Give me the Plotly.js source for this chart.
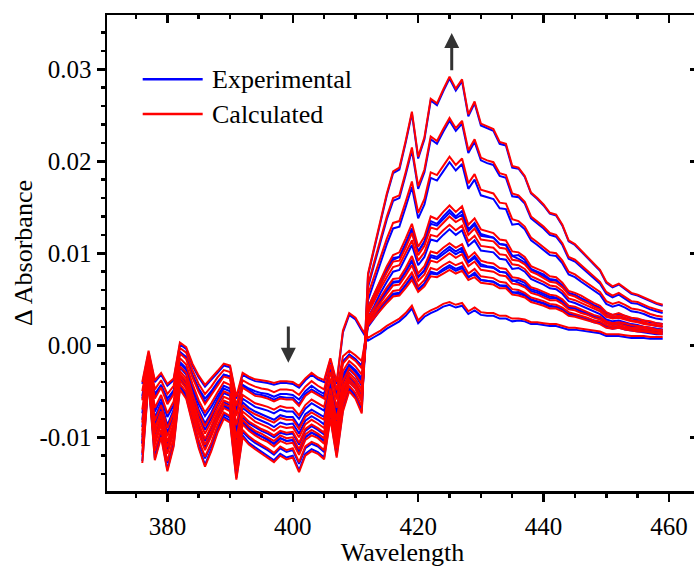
<!DOCTYPE html>
<html>
<head>
<meta charset="utf-8">
<script src="https://cdn.plot.ly/plotly-3.0.1.min.js"></script>
<style>
html,body{margin:0;padding:0;overflow:hidden;background:#fff;}
#chart{width:700px;height:567px;}
</style>
</head>
<body>
<div id="chart"></div>
<script>
// Wavelength (nm)
const wavelength = [376,377,378,379,380,381,382,383,384,385,386,387,388,389,390,391,392,393,394,395,396,397,398,399,400,401,402,403,404,405,406,407,408,409,410,411,412,413,414,415,416,417,418,419,420,421,422,423,424,425,426,427,428,429,430,431,432,433,434,435,436,437,438,439,440,441,442,443,444,445,446,447,448,449,450,451,452,453,454,455,456,457,458,459];

// Calculated Δ absorbance spectra (titration series)
const calc1 = [-40e-4,-6e-4,-38e-4,-30e-4,-42e-4,-36e-4,3e-4,-2e-4,-20e-4,-33e-4,-43e-4,-36e-4,-28e-4,-20e-4,-22e-4,-56e-4,-30e-4,-34e-4,-37e-4,-38e-4,-39e-4,-41e-4,-39e-4,-39e-4,-40e-4,-44e-4,-36e-4,-30e-4,-35e-4,-38e-4,-14e-4,-40e-4,16e-4,35e-4,30e-4,18e-4,8e-4,12e-4,16e-4,21e-4,25e-4,29e-4,35e-4,43e-4,27e-4,34e-4,38e-4,41e-4,45e-4,47e-4,44e-4,46e-4,37e-4,41e-4,36e-4,35e-4,35e-4,32e-4,32e-4,29e-4,29e-4,28e-4,25e-4,25e-4,24e-4,23e-4,23e-4,21e-4,19e-4,19e-4,18e-4,17e-4,16e-4,15e-4,12e-4,12e-4,12e-4,11e-4,10e-4,10e-4,10e-4,9e-4,9e-4,9e-4];
const calc2 = [-50e-4,-10e-4,-48e-4,-38e-4,-53e-4,-44e-4,-3e-4,-8e-4,-27e-4,-42e-4,-53e-4,-45e-4,-35e-4,-27e-4,-29e-4,-66e-4,-38e-4,-42e-4,-45e-4,-47e-4,-48e-4,-51e-4,-48e-4,-48e-4,-49e-4,-54e-4,-45e-4,-39e-4,-44e-4,-48e-4,-21e-4,-49e-4,-12e-4,-6e-4,-11e-4,-17e-4,22e-4,30e-4,39e-4,46e-4,53e-4,54e-4,62e-4,71e-4,58e-4,64e-4,75e-4,74e-4,78e-4,82e-4,78e-4,81e-4,71e-4,74e-4,68e-4,67e-4,66e-4,62e-4,62e-4,55e-4,54e-4,52e-4,47e-4,45e-4,43e-4,40e-4,40e-4,37e-4,32e-4,31e-4,29e-4,27e-4,25e-4,23e-4,19e-4,18e-4,19e-4,17e-4,16e-4,15e-4,15e-4,14e-4,13e-4,12e-4];
const calc3 = [-60e-4,-14e-4,-58e-4,-46e-4,-64e-4,-53e-4,-9e-4,-15e-4,-35e-4,-51e-4,-64e-4,-54e-4,-43e-4,-34e-4,-36e-4,-77e-4,-46e-4,-51e-4,-55e-4,-56e-4,-58e-4,-61e-4,-58e-4,-59e-4,-59e-4,-66e-4,-55e-4,-50e-4,-54e-4,-58e-4,-29e-4,-59e-4,-20e-4,-12e-4,-17e-4,-25e-4,24e-4,34e-4,43e-4,51e-4,59e-4,60e-4,69e-4,79e-4,64e-4,71e-4,84e-4,82e-4,87e-4,91e-4,87e-4,90e-4,78e-4,83e-4,75e-4,74e-4,73e-4,69e-4,68e-4,61e-4,60e-4,57e-4,52e-4,50e-4,48e-4,45e-4,44e-4,41e-4,36e-4,34e-4,32e-4,30e-4,27e-4,26e-4,22e-4,20e-4,21e-4,19e-4,18e-4,17e-4,16e-4,15e-4,14e-4,14e-4];
const calc4 = [-70e-4,-18e-4,-68e-4,-54e-4,-74e-4,-61e-4,-14e-4,-21e-4,-42e-4,-60e-4,-73e-4,-63e-4,-51e-4,-40e-4,-43e-4,-87e-4,-54e-4,-59e-4,-63e-4,-65e-4,-67e-4,-70e-4,-66e-4,-68e-4,-68e-4,-76e-4,-65e-4,-59e-4,-63e-4,-67e-4,-36e-4,-68e-4,-28e-4,-17e-4,-23e-4,-32e-4,27e-4,37e-4,47e-4,56e-4,65e-4,66e-4,76e-4,87e-4,70e-4,77e-4,92e-4,90e-4,95e-4,100e-4,95e-4,99e-4,86e-4,91e-4,82e-4,81e-4,80e-4,76e-4,75e-4,67e-4,66e-4,63e-4,57e-4,55e-4,52e-4,49e-4,49e-4,45e-4,39e-4,38e-4,35e-4,33e-4,30e-4,28e-4,24e-4,22e-4,23e-4,21e-4,19e-4,19e-4,18e-4,17e-4,16e-4,15e-4];
const calc5 = [-84e-4,-23e-4,-82e-4,-65e-4,-90e-4,-73e-4,-23e-4,-30e-4,-53e-4,-73e-4,-88e-4,-76e-4,-62e-4,-50e-4,-53e-4,-101e-4,-65e-4,-71e-4,-75e-4,-78e-4,-81e-4,-84e-4,-79e-4,-81e-4,-81e-4,-91e-4,-78e-4,-73e-4,-77e-4,-81e-4,-47e-4,-81e-4,-39e-4,-25e-4,-32e-4,-42e-4,30e-4,41e-4,52e-4,63e-4,72e-4,73e-4,84e-4,97e-4,78e-4,86e-4,102e-4,100e-4,106e-4,111e-4,106e-4,110e-4,95e-4,101e-4,92e-4,90e-4,89e-4,84e-4,83e-4,74e-4,73e-4,70e-4,63e-4,61e-4,58e-4,55e-4,54e-4,50e-4,43e-4,42e-4,39e-4,36e-4,33e-4,31e-4,26e-4,24e-4,25e-4,24e-4,22e-4,21e-4,20e-4,19e-4,17e-4,17e-4];
const calc6 = [-93e-4,-26e-4,-90e-4,-72e-4,-99e-4,-80e-4,-28e-4,-36e-4,-59e-4,-80e-4,-96e-4,-83e-4,-68e-4,-56e-4,-59e-4,-110e-4,-72e-4,-78e-4,-83e-4,-86e-4,-89e-4,-93e-4,-88e-4,-90e-4,-89e-4,-100e-4,-86e-4,-81e-4,-85e-4,-90e-4,-54e-4,-89e-4,-45e-4,-30e-4,-37e-4,-48e-4,35e-4,48e-4,62e-4,74e-4,85e-4,87e-4,100e-4,114e-4,92e-4,101e-4,120e-4,118e-4,125e-4,131e-4,125e-4,130e-4,113e-4,119e-4,108e-4,107e-4,106e-4,99e-4,98e-4,88e-4,87e-4,83e-4,75e-4,72e-4,69e-4,65e-4,64e-4,59e-4,51e-4,49e-4,46e-4,43e-4,40e-4,37e-4,31e-4,29e-4,30e-4,28e-4,26e-4,25e-4,23e-4,22e-4,21e-4,20e-4];
const calc7 = [-98e-4,-28e-4,-95e-4,-76e-4,-105e-4,-85e-4,-31e-4,-39e-4,-63e-4,-85e-4,-102e-4,-88e-4,-72e-4,-60e-4,-63e-4,-115e-4,-76e-4,-83e-4,-87e-4,-91e-4,-94e-4,-98e-4,-93e-4,-95e-4,-94e-4,-106e-4,-91e-4,-86e-4,-90e-4,-95e-4,-58e-4,-94e-4,-49e-4,-33e-4,-40e-4,-52e-4,37e-4,52e-4,66e-4,79e-4,91e-4,92e-4,106e-4,122e-4,98e-4,108e-4,128e-4,126e-4,133e-4,140e-4,134e-4,138e-4,120e-4,127e-4,115e-4,114e-4,113e-4,106e-4,105e-4,93e-4,92e-4,88e-4,80e-4,77e-4,73e-4,69e-4,68e-4,63e-4,55e-4,53e-4,49e-4,46e-4,42e-4,39e-4,33e-4,31e-4,32e-4,30e-4,27e-4,26e-4,25e-4,23e-4,22e-4,21e-4];
const calc8 = [-104e-4,-31e-4,-102e-4,-81e-4,-111e-4,-90e-4,-34e-4,-43e-4,-68e-4,-91e-4,-108e-4,-94e-4,-77e-4,-64e-4,-67e-4,-122e-4,-81e-4,-88e-4,-93e-4,-96e-4,-100e-4,-104e-4,-98e-4,-101e-4,-100e-4,-113e-4,-97e-4,-92e-4,-96e-4,-101e-4,-62e-4,-100e-4,-54e-4,-37e-4,-44e-4,-57e-4,41e-4,56e-4,72e-4,86e-4,98e-4,101e-4,116e-4,132e-4,107e-4,118e-4,140e-4,137e-4,145e-4,152e-4,145e-4,151e-4,131e-4,138e-4,126e-4,124e-4,122e-4,115e-4,114e-4,102e-4,101e-4,96e-4,86e-4,83e-4,80e-4,75e-4,74e-4,68e-4,59e-4,57e-4,54e-4,50e-4,46e-4,43e-4,36e-4,33e-4,35e-4,32e-4,30e-4,29e-4,27e-4,26e-4,24e-4,23e-4];
const calc9 = [-110e-4,-33e-4,-108e-4,-86e-4,-118e-4,-95e-4,-38e-4,-47e-4,-72e-4,-96e-4,-114e-4,-99e-4,-82e-4,-68e-4,-72e-4,-128e-4,-86e-4,-93e-4,-98e-4,-102e-4,-105e-4,-110e-4,-104e-4,-107e-4,-106e-4,-119e-4,-103e-4,-98e-4,-101e-4,-107e-4,-67e-4,-106e-4,-59e-4,-40e-4,-47e-4,-61e-4,55e-4,76e-4,97e-4,116e-4,133e-4,135e-4,156e-4,178e-4,144e-4,159e-4,188e-4,185e-4,195e-4,205e-4,196e-4,203e-4,176e-4,186e-4,169e-4,167e-4,165e-4,155e-4,154e-4,137e-4,135e-4,129e-4,117e-4,112e-4,107e-4,101e-4,100e-4,92e-4,80e-4,77e-4,72e-4,67e-4,62e-4,58e-4,48e-4,45e-4,47e-4,44e-4,40e-4,39e-4,37e-4,34e-4,32e-4,31e-4];
const calc10 = [-117e-4,-36e-4,-115e-4,-92e-4,-126e-4,-101e-4,-42e-4,-51e-4,-77e-4,-103e-4,-121e-4,-106e-4,-87e-4,-73e-4,-77e-4,-135e-4,-92e-4,-99e-4,-104e-4,-108e-4,-112e-4,-117e-4,-110e-4,-114e-4,-112e-4,-127e-4,-110e-4,-105e-4,-108e-4,-114e-4,-72e-4,-112e-4,-64e-4,-44e-4,-52e-4,-66e-4,66e-4,91e-4,117e-4,140e-4,160e-4,163e-4,188e-4,215e-4,173e-4,191e-4,227e-4,222e-4,235e-4,247e-4,236e-4,244e-4,212e-4,224e-4,204e-4,201e-4,199e-4,187e-4,185e-4,165e-4,163e-4,156e-4,140e-4,135e-4,129e-4,122e-4,120e-4,111e-4,96e-4,93e-4,87e-4,81e-4,74e-4,69e-4,58e-4,54e-4,57e-4,52e-4,48e-4,47e-4,44e-4,41e-4,39e-4,37e-4];
const calc11 = [-128e-4,-40e-4,-125e-4,-100e-4,-137e-4,-110e-4,-48e-4,-58e-4,-85e-4,-112e-4,-132e-4,-115e-4,-95e-4,-80e-4,-84e-4,-146e-4,-100e-4,-108e-4,-113e-4,-118e-4,-122e-4,-127e-4,-120e-4,-124e-4,-122e-4,-138e-4,-120e-4,-115e-4,-118e-4,-124e-4,-80e-4,-122e-4,-72e-4,-50e-4,-58e-4,-74e-4,78e-4,108e-4,138e-4,165e-4,189e-4,193e-4,222e-4,254e-4,205e-4,226e-4,268e-4,263e-4,278e-4,292e-4,279e-4,289e-4,251e-4,265e-4,241e-4,238e-4,235e-4,221e-4,219e-4,195e-4,193e-4,184e-4,166e-4,160e-4,153e-4,144e-4,142e-4,131e-4,114e-4,110e-4,103e-4,96e-4,88e-4,82e-4,69e-4,64e-4,67e-4,62e-4,57e-4,55e-4,52e-4,49e-4,46e-4,44e-4];

// Experimental Δ absorbance spectra
const exp1 = [-42e-4,-8e-4,-40e-4,-32e-4,-44e-4,-38e-4,1e-4,-4e-4,-22e-4,-35e-4,-45e-4,-38e-4,-30e-4,-22e-4,-24e-4,-58e-4,-32e-4,-36e-4,-39e-4,-40e-4,-41e-4,-43e-4,-41e-4,-41e-4,-42e-4,-46e-4,-38e-4,-32e-4,-37e-4,-40e-4,-16e-4,-42e-4,14e-4,33e-4,28e-4,16e-4,5e-4,9e-4,13e-4,18e-4,22e-4,26e-4,32e-4,40e-4,24e-4,31e-4,35e-4,38e-4,42e-4,44e-4,41e-4,43e-4,34e-4,38e-4,33e-4,32e-4,32e-4,29e-4,29e-4,26e-4,27e-4,26e-4,23e-4,23e-4,22e-4,21e-4,21e-4,19e-4,17e-4,17e-4,16e-4,15e-4,14e-4,13e-4,10e-4,10e-4,10e-4,9e-4,8e-4,8e-4,8e-4,7e-4,7e-4,7e-4];
const exp2 = [-55e-4,-15e-4,-53e-4,-43e-4,-58e-4,-49e-4,-8e-4,-13e-4,-32e-4,-47e-4,-58e-4,-50e-4,-40e-4,-32e-4,-34e-4,-71e-4,-43e-4,-47e-4,-50e-4,-52e-4,-53e-4,-56e-4,-53e-4,-53e-4,-54e-4,-59e-4,-50e-4,-44e-4,-49e-4,-53e-4,-26e-4,-54e-4,-17e-4,-11e-4,-16e-4,-22e-4,25e-4,33e-4,42e-4,49e-4,56e-4,57e-4,65e-4,74e-4,61e-4,67e-4,78e-4,77e-4,81e-4,85e-4,81e-4,84e-4,74e-4,77e-4,71e-4,70e-4,69e-4,65e-4,65e-4,58e-4,56e-4,54e-4,49e-4,47e-4,45e-4,42e-4,42e-4,39e-4,34e-4,33e-4,31e-4,29e-4,27e-4,25e-4,21e-4,20e-4,21e-4,19e-4,18e-4,17e-4,17e-4,16e-4,15e-4,14e-4];
const exp3 = [-58e-4,-12e-4,-56e-4,-44e-4,-62e-4,-51e-4,-7e-4,-13e-4,-33e-4,-49e-4,-62e-4,-52e-4,-41e-4,-32e-4,-34e-4,-75e-4,-44e-4,-49e-4,-53e-4,-54e-4,-56e-4,-59e-4,-56e-4,-57e-4,-57e-4,-64e-4,-53e-4,-48e-4,-52e-4,-56e-4,-27e-4,-57e-4,-18e-4,-10e-4,-15e-4,-23e-4,20e-4,30e-4,39e-4,47e-4,55e-4,56e-4,65e-4,75e-4,60e-4,67e-4,80e-4,78e-4,83e-4,87e-4,83e-4,86e-4,74e-4,79e-4,71e-4,70e-4,69e-4,65e-4,64e-4,57e-4,58e-4,55e-4,50e-4,48e-4,46e-4,43e-4,42e-4,39e-4,34e-4,32e-4,30e-4,28e-4,25e-4,24e-4,20e-4,18e-4,19e-4,17e-4,16e-4,15e-4,14e-4,13e-4,12e-4,12e-4];
const exp4 = [-74e-4,-22e-4,-72e-4,-58e-4,-78e-4,-65e-4,-18e-4,-25e-4,-46e-4,-64e-4,-77e-4,-67e-4,-55e-4,-44e-4,-47e-4,-91e-4,-58e-4,-63e-4,-67e-4,-69e-4,-71e-4,-74e-4,-70e-4,-72e-4,-72e-4,-80e-4,-69e-4,-63e-4,-67e-4,-71e-4,-40e-4,-72e-4,-32e-4,-21e-4,-27e-4,-36e-4,31e-4,41e-4,51e-4,60e-4,69e-4,70e-4,80e-4,91e-4,74e-4,81e-4,96e-4,94e-4,99e-4,104e-4,99e-4,103e-4,90e-4,95e-4,86e-4,85e-4,84e-4,80e-4,79e-4,71e-4,68e-4,65e-4,59e-4,57e-4,54e-4,51e-4,51e-4,47e-4,41e-4,40e-4,37e-4,35e-4,32e-4,30e-4,26e-4,24e-4,25e-4,23e-4,21e-4,21e-4,20e-4,19e-4,18e-4,17e-4];
const exp5 = [-81e-4,-20e-4,-79e-4,-62e-4,-87e-4,-70e-4,-20e-4,-27e-4,-50e-4,-70e-4,-85e-4,-73e-4,-59e-4,-47e-4,-50e-4,-98e-4,-62e-4,-68e-4,-72e-4,-75e-4,-78e-4,-81e-4,-76e-4,-78e-4,-78e-4,-88e-4,-75e-4,-70e-4,-74e-4,-78e-4,-44e-4,-78e-4,-36e-4,-22e-4,-29e-4,-39e-4,26e-4,37e-4,48e-4,59e-4,68e-4,69e-4,80e-4,93e-4,74e-4,82e-4,98e-4,96e-4,102e-4,107e-4,102e-4,106e-4,91e-4,97e-4,88e-4,86e-4,85e-4,80e-4,79e-4,70e-4,71e-4,68e-4,61e-4,59e-4,56e-4,53e-4,52e-4,48e-4,41e-4,40e-4,37e-4,34e-4,31e-4,29e-4,24e-4,22e-4,23e-4,22e-4,20e-4,19e-4,18e-4,17e-4,15e-4,15e-4];
const exp6 = [-89e-4,-22e-4,-86e-4,-68e-4,-95e-4,-76e-4,-24e-4,-32e-4,-55e-4,-76e-4,-92e-4,-79e-4,-64e-4,-52e-4,-55e-4,-106e-4,-68e-4,-74e-4,-79e-4,-82e-4,-85e-4,-89e-4,-84e-4,-86e-4,-85e-4,-96e-4,-82e-4,-77e-4,-81e-4,-86e-4,-50e-4,-85e-4,-41e-4,-26e-4,-33e-4,-44e-4,30e-4,43e-4,57e-4,69e-4,80e-4,82e-4,95e-4,109e-4,87e-4,96e-4,115e-4,113e-4,120e-4,126e-4,120e-4,125e-4,108e-4,114e-4,103e-4,102e-4,101e-4,94e-4,93e-4,83e-4,84e-4,80e-4,72e-4,69e-4,66e-4,62e-4,61e-4,56e-4,48e-4,46e-4,43e-4,40e-4,37e-4,34e-4,28e-4,26e-4,27e-4,25e-4,23e-4,22e-4,20e-4,19e-4,18e-4,17e-4];
const exp7 = [-100e-4,-30e-4,-97e-4,-78e-4,-107e-4,-87e-4,-33e-4,-41e-4,-65e-4,-87e-4,-104e-4,-90e-4,-74e-4,-62e-4,-65e-4,-117e-4,-78e-4,-85e-4,-89e-4,-93e-4,-96e-4,-100e-4,-95e-4,-97e-4,-96e-4,-108e-4,-93e-4,-88e-4,-92e-4,-97e-4,-60e-4,-96e-4,-51e-4,-35e-4,-42e-4,-54e-4,41e-4,56e-4,70e-4,83e-4,95e-4,96e-4,110e-4,126e-4,102e-4,112e-4,132e-4,130e-4,137e-4,144e-4,138e-4,142e-4,124e-4,131e-4,119e-4,118e-4,117e-4,110e-4,109e-4,97e-4,94e-4,90e-4,82e-4,79e-4,75e-4,71e-4,70e-4,65e-4,57e-4,55e-4,51e-4,48e-4,44e-4,41e-4,35e-4,33e-4,34e-4,32e-4,29e-4,28e-4,27e-4,25e-4,24e-4,23e-4];
const exp8 = [-107e-4,-34e-4,-105e-4,-84e-4,-114e-4,-93e-4,-37e-4,-46e-4,-71e-4,-94e-4,-111e-4,-97e-4,-80e-4,-67e-4,-70e-4,-125e-4,-84e-4,-91e-4,-96e-4,-99e-4,-103e-4,-107e-4,-101e-4,-104e-4,-103e-4,-116e-4,-100e-4,-95e-4,-99e-4,-104e-4,-65e-4,-103e-4,-57e-4,-40e-4,-47e-4,-60e-4,36e-4,51e-4,67e-4,81e-4,93e-4,96e-4,111e-4,127e-4,102e-4,113e-4,135e-4,132e-4,140e-4,147e-4,140e-4,146e-4,126e-4,133e-4,121e-4,119e-4,117e-4,110e-4,109e-4,97e-4,98e-4,93e-4,83e-4,80e-4,77e-4,72e-4,71e-4,65e-4,56e-4,54e-4,51e-4,47e-4,43e-4,40e-4,33e-4,30e-4,32e-4,29e-4,27e-4,26e-4,24e-4,23e-4,21e-4,20e-4];
const exp9 = [-107e-4,-30e-4,-105e-4,-83e-4,-115e-4,-92e-4,-35e-4,-44e-4,-69e-4,-93e-4,-111e-4,-96e-4,-79e-4,-65e-4,-69e-4,-125e-4,-83e-4,-90e-4,-95e-4,-99e-4,-102e-4,-107e-4,-101e-4,-104e-4,-103e-4,-116e-4,-100e-4,-95e-4,-98e-4,-104e-4,-64e-4,-103e-4,-56e-4,-37e-4,-44e-4,-58e-4,49e-4,70e-4,91e-4,110e-4,127e-4,129e-4,150e-4,172e-4,138e-4,153e-4,182e-4,179e-4,189e-4,199e-4,190e-4,197e-4,170e-4,180e-4,163e-4,161e-4,159e-4,149e-4,148e-4,131e-4,132e-4,126e-4,114e-4,109e-4,104e-4,98e-4,97e-4,89e-4,77e-4,74e-4,69e-4,64e-4,59e-4,55e-4,45e-4,42e-4,44e-4,41e-4,37e-4,36e-4,34e-4,31e-4,29e-4,28e-4];
const exp10 = [-119e-4,-38e-4,-117e-4,-94e-4,-128e-4,-103e-4,-44e-4,-53e-4,-79e-4,-105e-4,-123e-4,-108e-4,-89e-4,-75e-4,-79e-4,-137e-4,-94e-4,-101e-4,-106e-4,-110e-4,-114e-4,-119e-4,-112e-4,-116e-4,-114e-4,-129e-4,-112e-4,-107e-4,-110e-4,-116e-4,-74e-4,-114e-4,-66e-4,-46e-4,-54e-4,-68e-4,63e-4,88e-4,114e-4,137e-4,157e-4,160e-4,185e-4,212e-4,170e-4,188e-4,224e-4,219e-4,232e-4,244e-4,233e-4,241e-4,209e-4,221e-4,201e-4,198e-4,196e-4,184e-4,182e-4,162e-4,161e-4,154e-4,138e-4,133e-4,127e-4,120e-4,118e-4,109e-4,94e-4,91e-4,85e-4,79e-4,72e-4,67e-4,56e-4,52e-4,55e-4,50e-4,46e-4,45e-4,42e-4,39e-4,37e-4,35e-4];
const exp11 = [-126e-4,-38e-4,-123e-4,-98e-4,-135e-4,-108e-4,-46e-4,-56e-4,-83e-4,-110e-4,-130e-4,-113e-4,-93e-4,-78e-4,-82e-4,-144e-4,-98e-4,-106e-4,-111e-4,-116e-4,-120e-4,-125e-4,-118e-4,-122e-4,-120e-4,-136e-4,-118e-4,-113e-4,-116e-4,-122e-4,-78e-4,-120e-4,-70e-4,-48e-4,-56e-4,-72e-4,76e-4,106e-4,136e-4,163e-4,187e-4,191e-4,220e-4,252e-4,203e-4,224e-4,266e-4,261e-4,276e-4,290e-4,277e-4,287e-4,249e-4,263e-4,239e-4,236e-4,233e-4,219e-4,217e-4,193e-4,192e-4,183e-4,165e-4,159e-4,152e-4,143e-4,141e-4,130e-4,113e-4,109e-4,102e-4,95e-4,87e-4,81e-4,68e-4,63e-4,66e-4,61e-4,56e-4,54e-4,51e-4,48e-4,45e-4,43e-4];

// Axis tick labels and legend labels
const xTickVals = [380, 400, 420, 440, 460];
const yTickVals = [-0.01, 0, 0.01, 0.02, 0.03];
const yTickText = ['-0.01', '0.00', '0.01', '0.02', '0.03'];
const seriesNames = ['Experimental', 'Calculated'];

const expSeries = [exp1, exp2, exp3, exp4, exp5, exp6, exp7, exp8, exp9, exp10, exp11];
const calcSeries = [calc1, calc2, calc3, calc4, calc5, calc6, calc7, calc8, calc9, calc10, calc11];

const BLUE = '#0000ff', RED = '#ff0000';
const FONT = 'Liberation Serif';
const traces = [];
expSeries.forEach((ys, i) => traces.push({
  x: wavelength, y: ys, type: 'scatter', mode: 'lines', name: seriesNames[0] + ' ' + (i + 1),
  line: {color: BLUE, width: 2}, showlegend: false, hoverinfo: 'skip'
}));
calcSeries.forEach((ys, i) => traces.push({
  x: wavelength, y: ys, type: 'scatter', mode: 'lines', name: seriesNames[1] + ' ' + (i + 1),
  line: {color: RED, width: 2}, showlegend: false, hoverinfo: 'skip'
}));
// carrier for the mirrored (top/right) frame axes
traces.push({x: [], y: [], xaxis: 'x2', yaxis: 'y2', type: 'scatter', mode: 'lines', showlegend: false, hoverinfo: 'skip'});

const XR = [370.37, 464.63];
const YR = [-0.01584, 0.0359];
const LW = 2.5;

const layout = {
  width: 700, height: 567,
  margin: {l: 107, r: 2, t: 15, b: 76},
  paper_bgcolor: '#fff', plot_bgcolor: '#fff',
  showlegend: false,
  font: {family: FONT, color: '#000'},
  xaxis: {
    range: XR, tickmode: 'array', tickvals: xTickVals,
    ticks: 'outside', ticklen: 8, tickwidth: LW, tickcolor: '#000',
    showline: true, linewidth: LW, linecolor: '#000',
    showgrid: false, zeroline: false, ticklabelstandoff: 3,
    tickfont: {family: FONT, size: 25, color: '#000'},
    minor: {tickmode: 'linear', tick0: 380, dtick: 5, ticks: 'outside', ticklen: 4, tickwidth: LW, tickcolor: '#000', showgrid: false},
    title: {text: 'Wavelength', font: {family: FONT, size: 26, color: '#000'}, standoff: 16}
  },
  yaxis: {
    range: YR, tickmode: 'array', tickvals: yTickVals, ticktext: yTickText,
    ticks: 'outside', ticklen: 8, tickwidth: LW, tickcolor: '#000',
    showline: true, linewidth: LW, linecolor: '#000',
    showgrid: false, zeroline: false,
    tickfont: {family: FONT, size: 25, color: '#000'},
    minor: {tickmode: 'linear', tick0: 0, dtick: 0.002, ticks: 'outside', ticklen: 4, tickwidth: LW, tickcolor: '#000', showgrid: false},
    title: {text: 'Δ Absorbance', font: {family: FONT, size: 26, color: '#000'}, standoff: 0}
  },
  xaxis2: {
    overlaying: 'x', side: 'top', anchor: 'y', range: XR,
    tickmode: 'array', tickvals: xTickVals, showticklabels: false,
    ticks: 'inside', ticklen: 8, tickwidth: LW, tickcolor: '#000',
    showline: true, linewidth: LW, linecolor: '#000', showgrid: false, zeroline: false,
    minor: {tickmode: 'linear', tick0: 380, dtick: 5, ticks: 'inside', ticklen: 4, tickwidth: LW, tickcolor: '#000', showgrid: false}
  },
  yaxis2: {
    overlaying: 'y', side: 'right', anchor: 'x', range: YR,
    tickmode: 'array', tickvals: yTickVals, showticklabels: false,
    ticks: 'inside', ticklen: 8, tickwidth: LW, tickcolor: '#000',
    showline: true, linewidth: LW, linecolor: '#000', showgrid: false, zeroline: false,
    minor: {tickmode: 'linear', tick0: 0, dtick: 0.002, ticks: 'inside', ticklen: 4, tickwidth: LW, tickcolor: '#000', showgrid: false}
  },
  shapes: [
    {type: 'line', xref: 'paper', yref: 'paper', x0: 0.0604, x1: 0.1619, y0: 0.8649, y1: 0.8649, line: {color: BLUE, width: 2.5}},
    {type: 'line', xref: 'paper', yref: 'paper', x0: 0.0604, x1: 0.1619, y0: 0.792, y1: 0.792, line: {color: RED, width: 2.5}}
  ],
  annotations: [
    {xref: 'paper', yref: 'paper', x: 0.1743, y: 0.8649, xanchor: 'left', yanchor: 'middle', text: seriesNames[0], showarrow: false, font: {family: FONT, size: 26, color: '#000'}},
    {xref: 'paper', yref: 'paper', x: 0.1743, y: 0.792, xanchor: 'left', yanchor: 'middle', text: seriesNames[1], showarrow: false, font: {family: FONT, size: 26, color: '#000'}},
    {xref: 'x', yref: 'y', axref: 'x', ayref: 'y', x: 425.35, y: 0.03395, ax: 425.35, ay: 0.02974, text: '', showarrow: true, arrowhead: 2, arrowsize: 1, arrowwidth: 3, arrowcolor: '#333'},
    {xref: 'x', yref: 'y', axref: 'x', ayref: 'y', x: 399.29, y: -0.00189, ax: 399.29, ay: 0.0022, text: '', showarrow: true, arrowhead: 2, arrowsize: 1, arrowwidth: 3, arrowcolor: '#333'}
  ]
};

Plotly.newPlot('chart', traces, layout, {staticPlot: true, displayModeBar: false});
</script>
</body>
</html>
